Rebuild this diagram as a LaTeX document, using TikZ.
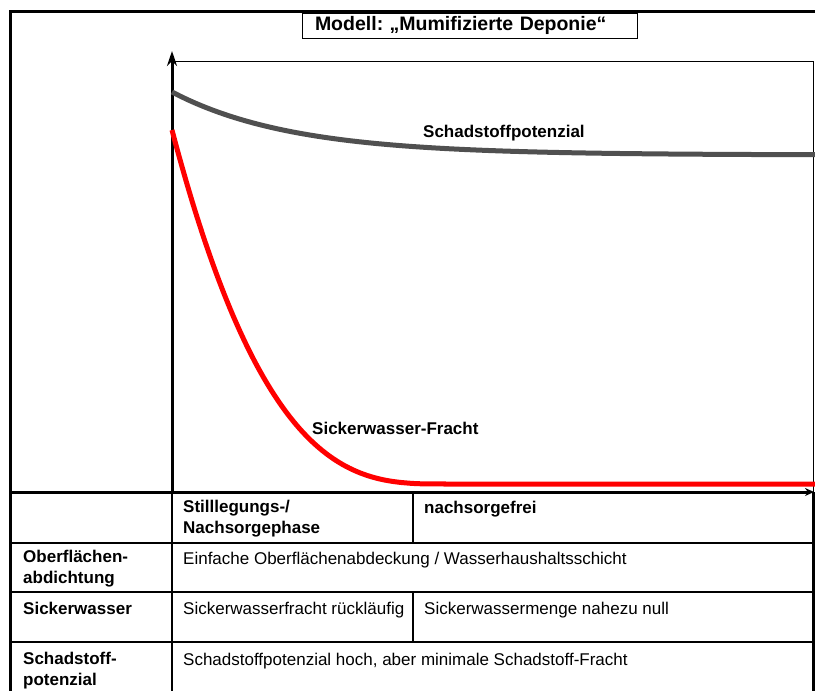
\documentclass[tikz,border=0pt]{standalone}
\usepackage{fontspec}
\setmainfont{Liberation Sans}
\usetikzlibrary{arrows.meta}
\definecolor{potgray}{RGB}{80,80,80}
\frenchspacing

\begin{document}
\begin{tikzpicture}[x=1pt,y=-1pt]
\tikzstyle{cell}=[anchor=base west, inner sep=0pt, align=left, font=\fontsize{17}{21}\selectfont]
\tikzstyle{head}=[cell, font=\fontsize{17}{21}\selectfont\bfseries]
\tikzstyle{border}=[line width=3pt]
\tikzstyle{grid}=[line width=1.2pt]

\useasboundingbox (0,0) rectangle (815,691);

% frame and table borders
\coordinate (TR) at (815,11);
\coordinate (TL) at (10,11);
\coordinate (BL) at (10,691);
\coordinate (BR) at (813,691);
\coordinate (O) at (172,492);
\coordinate (L) at (10,492);
\coordinate (R) at (813,492);
\coordinate (ytip) at (172,51);
\coordinate (xtip) at (814,492);

\draw[border] (TR) -- (TL) -- (BL);
\draw[border] (R) -- (BR);

% plot box
\draw[line width=1pt] (175,61) -- (813,61) -- (R);

% table grid
\foreach \y in {543,592,642}
  \draw[grid] (10,\y) -- (813,\y);
\draw[grid] (O) -- (172,691);
\draw[grid] (413,492) -- (413,543);
\draw[grid] (413,592) -- (413,642);

% axes
\draw[border,-{Stealth[length=15pt,width=10pt]}] (O) -- (ytip);
\draw[border,-{Stealth[length=9pt,width=8pt]}] (L) -- (xtip);

% curves
\draw[line width=5pt, potgray] plot[domain=172:815, samples=80] (\x, {155-63*exp(-(\x-172)/120)});
\draw[line width=5pt, red, line join=round] plot[domain=172:442, samples=80] (\x, {484-354*(1-(\x-172)/270)^2.9}) -- (815,484);

\node (potlabel) [head] at (423,137) {Schadstoffpotenzial};
\node (fluxlabel) [head] at (312,434) {Sickerwasser-Fracht};

% title
\node (title) [draw, fill=white, line width=0.8pt, minimum width=335pt, minimum height=25pt,
  text width=309pt, align=left, inner xsep=13pt,
  font=\bfseries\fontsize{19.5}{22}\selectfont] at (469.5,25.5) {Modell: „Mumifizierte Deponie“};

% table text (multi-line cells sit on their last line)
\node (phase1) [head] at (183,533) {Stilllegungs-/\\Nachsorgephase};
\node (phase2) [head] at (424,513) {nachsorgefrei};

\node (ofa) [head] at (23,583) {Oberflächen-\\abdichtung};
\node (ofatext) [cell] at (183,564) {Einfache Oberflächenabdeckung / Wasserhaushaltsschicht};

\node (sw) [head] at (23,614) {Sickerwasser};
\node (swtext1) [cell] at (183,614) {Sickerwasserfracht rückläufig};
\node (swtext2) [cell] at (424,614) {Sickerwassermenge nahezu null};

\node (sp) [head] at (23,685) {Schadstoff-\\potenzial};
\node (sptext) [cell] at (183,665) {Schadstoffpotenzial hoch, aber minimale Schadstoff-Fracht};

\end{tikzpicture}
\end{document}
